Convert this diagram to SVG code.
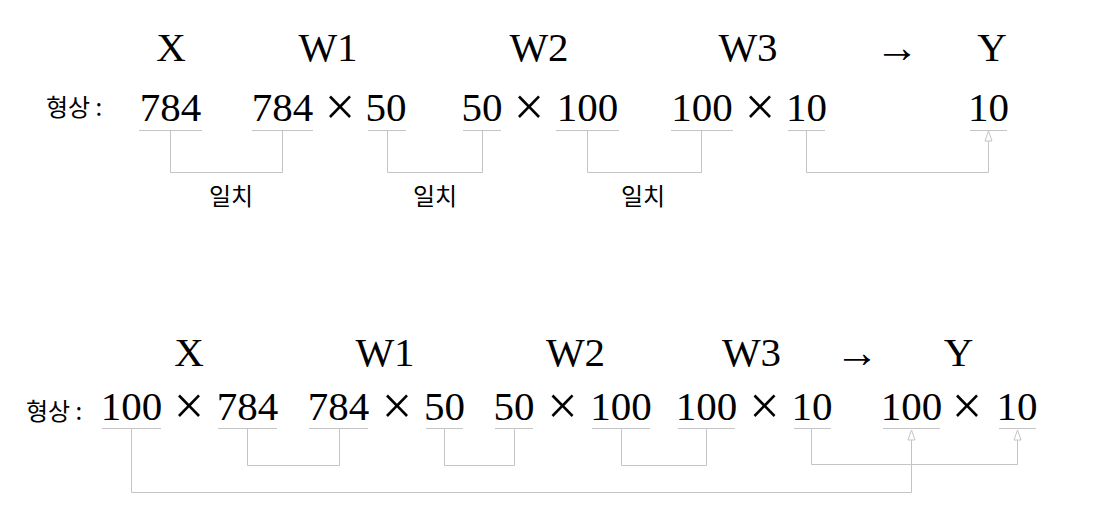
<svg xmlns="http://www.w3.org/2000/svg" width="1102" height="505" viewBox="0 0 1102 505">
<defs>
<style>
.lbl{font-family:"Liberation Serif","Times New Roman",serif;font-size:41px;fill:#000;text-anchor:middle}
.num{font-family:"Liberation Serif","Times New Roman",serif;font-size:41px;fill:#000;text-anchor:middle}
.arr{font-family:"Liberation Serif","Times New Roman",serif;font-size:44px;fill:#000;text-anchor:middle}
.x{font-family:"Liberation Serif","Times New Roman",serif;font-size:54px;fill:#000;text-anchor:middle}
.ko{font-family:"Noto Sans CJK KR","Noto Sans",sans-serif;font-size:24px;fill:#000}
.ul{stroke:#c4c4c4;stroke-width:1;fill:none}
.cn{stroke:#c4c4c4;stroke-width:1;fill:none}
</style>
<marker id="ah" markerWidth="12" markerHeight="10" refX="11" refY="5" orient="auto" markerUnits="userSpaceOnUse" viewBox="0 0 12 10">
<path d="M1,1.5 L11,5 L1,8.5 Z" fill="#fff" stroke="#c4c4c4" stroke-width="1"/>
</marker>
</defs>
<rect width="1102" height="505" fill="#fff"/>

<g id="top-row">
<text class="ko" x="46" y="116">형상 :</text>
<g id="top-X">
<text class="lbl" x="171" y="61">X</text>
<text class="num" x="170.5" y="121">784</text>
<line class="ul" x1="139" y1="130.5" x2="202" y2="130.5"/>
</g>
<g id="top-W1">
<text class="lbl" x="328" y="61">W1</text>
<text class="num" x="282.5" y="121">784</text>
<text class="x" x="340" y="125">×</text>
<text class="num" x="386" y="121">50</text>
<line class="ul" x1="252" y1="130.5" x2="313" y2="130.5"/>
<line class="ul" x1="368" y1="130.5" x2="406" y2="130.5"/>
</g>
<g id="top-W2">
<text class="lbl" x="539" y="61">W2</text>
<text class="num" x="482" y="121">50</text>
<text class="x" x="529" y="125">×</text>
<text class="num" x="587.5" y="121">100</text>
<line class="ul" x1="463" y1="130.5" x2="501" y2="130.5"/>
<line class="ul" x1="556" y1="130.5" x2="619" y2="130.5"/>
</g>
<g id="top-W3">
<text class="lbl" x="748" y="61">W3</text>
<text class="num" x="702" y="121">100</text>
<text class="x" x="760" y="125">×</text>
<text class="num" x="806.5" y="121">10</text>
<line class="ul" x1="671" y1="130.5" x2="733" y2="130.5"/>
<line class="ul" x1="788" y1="130.5" x2="825" y2="130.5"/>
</g>
<g id="top-arrow">
<text class="arr" x="897" y="62">→</text>
</g>
<g id="top-Y">
<text class="lbl" x="992" y="61">Y</text>
<text class="num" x="988.5" y="121">10</text>
<line class="ul" x1="970" y1="130.5" x2="1007" y2="130.5"/>
</g>
<g id="top-match-labels">
<text class="ko" x="231" y="205" text-anchor="middle">일치</text>
<text class="ko" x="435" y="205" text-anchor="middle">일치</text>
<text class="ko" x="643" y="205" text-anchor="middle">일치</text>
</g>
</g>

<g id="bottom-row">
<text class="ko" x="26" y="420">형상 :</text>
<g id="bot-X">
<text class="lbl" x="189" y="366">X</text>
<text class="num" x="131.5" y="420">100</text>
<text class="x" x="189" y="424">×</text>
<text class="num" x="247.5" y="420">784</text>
<line class="ul" x1="102" y1="428.5" x2="161" y2="428.5"/>
<line class="ul" x1="218" y1="428.5" x2="277" y2="428.5"/>
</g>
<g id="bot-W1">
<text class="lbl" x="385" y="366">W1</text>
<text class="num" x="338.5" y="420">784</text>
<text class="x" x="397" y="424">×</text>
<text class="num" x="444.5" y="420">50</text>
<line class="ul" x1="309" y1="428.5" x2="368" y2="428.5"/>
<line class="ul" x1="426" y1="428.5" x2="463" y2="428.5"/>
</g>
<g id="bot-W2">
<text class="lbl" x="575.5" y="366">W2</text>
<text class="num" x="514" y="420">50</text>
<text class="x" x="562.5" y="424">×</text>
<text class="num" x="621" y="420">100</text>
<line class="ul" x1="495" y1="428.5" x2="533" y2="428.5"/>
<line class="ul" x1="592" y1="428.5" x2="650" y2="428.5"/>
</g>
<g id="bot-W3">
<text class="lbl" x="751.5" y="366">W3</text>
<text class="num" x="706.5" y="420">100</text>
<text class="x" x="764.5" y="424">×</text>
<text class="num" x="812" y="420">10</text>
<line class="ul" x1="678" y1="428.5" x2="735" y2="428.5"/>
<line class="ul" x1="794" y1="428.5" x2="831" y2="428.5"/>
</g>
<g id="bot-arrow">
<text class="arr" x="857" y="367">→</text>
</g>
<g id="bot-Y">
<text class="lbl" x="958.5" y="366">Y</text>
<text class="num" x="911.5" y="420">100</text>
<text class="x" x="967" y="424">×</text>
<text class="num" x="1017" y="420">10</text>
<line class="ul" x1="883" y1="428.5" x2="940" y2="428.5"/>
<line class="ul" x1="999" y1="428.5" x2="1036" y2="428.5"/>
</g>
</g>

<g id="connectors">
<path class="cn" d="M170.5,131 V172.5 H282.5 V131"/>
<path class="cn" d="M387.5,131 V172.5 H482.5 V131"/>
<path class="cn" d="M587.5,131 V172.5 H701.5 V131"/>
<path class="cn" d="M806.5,131 V172.5 H988.5 V131" marker-end="url(#ah)"/>
<path class="cn" d="M131.5,429 V492.5 H911.5 V430" marker-end="url(#ah)"/>
<path class="cn" d="M247.5,429 V465.5 H339.5 V429"/>
<path class="cn" d="M444.5,429 V465.5 H514.5 V429"/>
<path class="cn" d="M621.5,429 V465.5 H706.5 V429"/>
<path class="cn" d="M811.5,429 V464.5 H1017.5 V430" marker-end="url(#ah)"/>
</g>
</svg>
